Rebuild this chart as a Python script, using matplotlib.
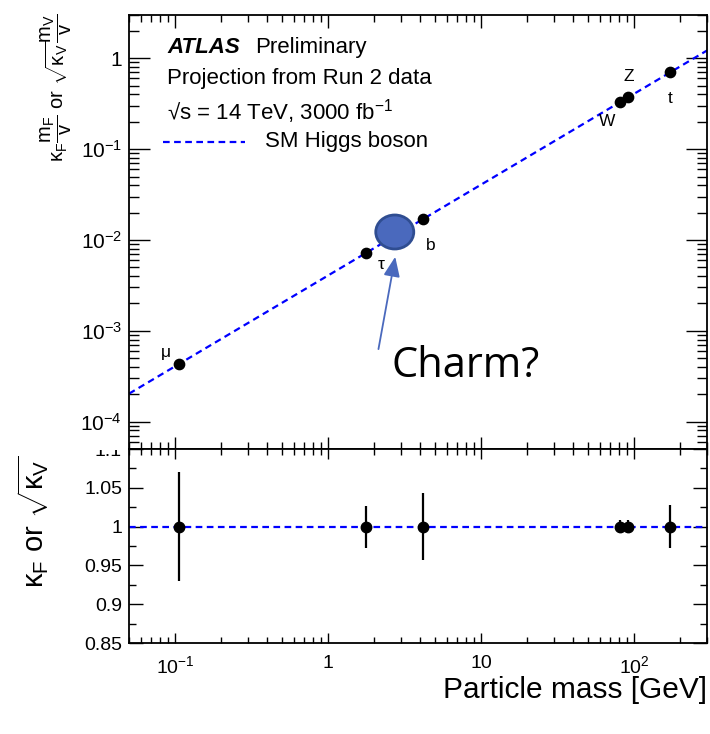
import matplotlib
matplotlib.use("Agg")
import matplotlib.pyplot as plt
import matplotlib.transforms as mtransforms
from matplotlib.patches import Ellipse, Rectangle
from matplotlib.ticker import FixedLocator, FixedFormatter, NullFormatter, LogLocator, MultipleLocator
import numpy as np

plt.rcParams['font.family'] = ['Liberation Sans', 'DejaVu Sans']
plt.rcParams['mathtext.fontset'] = 'custom'
plt.rcParams['mathtext.rm'] = 'Liberation Sans'
plt.rcParams['mathtext.it'] = 'Liberation Sans'
plt.rcParams['mathtext.bf'] = 'Liberation Sans:bold'

# ---- data ----
particles = ["μ", "τ", "b", "W", "Z", "t"]
masses = [0.1057, 1.777, 4.18, 80.4, 91.19, 172.5]   # GeV
vev = 246.0
reduced_coupling = [m / vev for m in masses]
kappa = [1.0, 1.0, 1.0, 1.0, 1.0, 1.0]
kappa_err = [0.070, 0.027, 0.043, 0.008, 0.008, 0.028]
label_offsets_px = [(-13, 12), (15, -12), (8, -26), (-12, -19), (1, 21), (0, -26)]
charm_mass = 2.73
charm_coupling = 0.01225

xlim = (0.05, 300)
ylim_top = (5e-5, 3)
ylim_bot = (0.85, 1.1)
x_major = [0.1, 1, 10, 100]
x_major_labels = [r"$10^{-1}$", "1", "10", r"$10^{2}$"]
y_major = [1e-4, 1e-3, 1e-2, 1e-1, 1]
y_major_labels = [r"$10^{-4}$", r"$10^{-3}$", r"$10^{-2}$", r"$10^{-1}$", "1"]
y_bot_major = [0.85, 0.9, 0.95, 1.0, 1.05, 1.1]
y_bot_labels = ["0.85", "0.9", "0.95", "1", "1.05", "1.1"]

W, H = 710, 734
fig = plt.figure(figsize=(W / 100, H / 100), dpi=100)
L, R = 129, 707
ax = fig.add_axes([L / W, 1 - 449 / H, (R - L) / W, (449 - 15) / H])
axb = fig.add_axes([L / W, 1 - 643 / H, (R - L) / W, (643 - 449) / H])

pt = 0.72  # points per pixel

# SM line
xl = np.array(xlim)
dash = (0, (3, 2.0))
ax.plot(xl, xl / vev, ls=dash, color='#0000ff', lw=1.6, zorder=2)
ax.scatter(masses, reduced_coupling, s=55, color='black', zorder=4)
for name, m, y, off in zip(particles, masses, reduced_coupling, label_offsets_px):
    ax.annotate(name, (m, y), xytext=(off[0] * pt, off[1] * pt), textcoords='offset points',
                ha='center', va='center', fontsize=12.5)

ax.set_xscale('log')
ax.set_yscale('log')
ax.set_xlim(*xlim)
ax.set_ylim(*ylim_top)

# Charm blob
trans = fig.dpi_scale_trans + mtransforms.ScaledTranslation(charm_mass, charm_coupling, ax.transData)
ax.add_patch(Ellipse((0, 0), 0.38, 0.34, transform=trans, facecolor='#4a69bd', edgecolor='#2f4d91', lw=2, zorder=5))
ax.annotate("", xy=(2.77, 7.0e-3), xytext=(2.12, 5.87e-4),
            arrowprops=dict(arrowstyle='-|>,head_length=1.2,head_width=0.5', color='#4a69bd', lw=1.3))
ax.text(2.61, 4.1e-4, "Charm?", fontsize=30, family=['Open Sans'], ha='left', va='center')

# texts
fs = 16
ax.text(0.066, 0.912, "ATLAS", transform=ax.transAxes, fontsize=fs, fontweight='bold', fontstyle='italic')
ax.text(0.218, 0.912, "Preliminary", transform=ax.transAxes, fontsize=fs)
ax.text(0.066, 0.840, "Projection from Run 2 data", transform=ax.transAxes, fontsize=fs)
ax.text(0.066, 0.760, "√s = 14 TeV, 3000 fb$^{-1}$", transform=ax.transAxes, fontsize=fs)
ax.plot([0.059, 0.2], [0.708, 0.708], transform=ax.transAxes, ls=dash, color='#0000ff', lw=1.6)
ax.text(0.235, 0.708, "SM Higgs boson", transform=ax.transAxes, fontsize=fs, va='center')

# bottom panel
axb.plot(xl, [1, 1], ls=dash, color='#0000ff', lw=1.6, zorder=2)
axb.errorbar(masses, kappa, yerr=kappa_err, fmt='o', color='black', ms=7.5, elinewidth=1.6, capsize=0, zorder=4)
axb.set_xscale('log')
axb.set_xlim(*xlim)
axb.set_ylim(*ylim_bot)

for a in (ax, axb):
    a.xaxis.set_major_locator(FixedLocator(x_major))
    a.xaxis.set_minor_locator(LogLocator(base=10, subs=np.arange(2, 10)))
    a.xaxis.set_minor_formatter(NullFormatter())
    a.tick_params(which='both', direction='in', top=True, right=True, width=1.0)
    for s in a.spines.values():
        s.set_linewidth(1.3)

ax.xaxis.set_major_formatter(NullFormatter())
ax.tick_params(axis='x', which='major', length=9)
ax.tick_params(axis='x', which='minor', length=5)
ax.yaxis.set_major_locator(FixedLocator(y_major))
ax.yaxis.set_major_formatter(FixedFormatter(y_major_labels))
ax.yaxis.set_minor_locator(LogLocator(base=10, subs=np.arange(2, 10)))
ax.yaxis.set_minor_formatter(NullFormatter())
ax.tick_params(axis='y', which='major', length=15, labelsize=15, pad=5)
ax.tick_params(axis='y', which='minor', length=7.5)

axb.xaxis.set_major_formatter(FixedFormatter(x_major_labels))
axb.tick_params(axis='x', which='major', length=7, labelsize=14, pad=9)
axb.tick_params(axis='x', which='minor', length=4)
axb.yaxis.set_major_locator(FixedLocator(y_bot_major))
axb.yaxis.set_major_formatter(FixedFormatter(y_bot_labels))
axb.yaxis.set_minor_locator(MultipleLocator(0.025))
axb.tick_params(axis='y', which='major', length=10, labelsize=14, pad=5)
axb.tick_params(axis='y', which='minor', length=5)

# the ratio pad's top label is cut by the upper pad, as in the original
fig.add_artist(Rectangle((60 / W, 1 - 449.5 / H), 66 / W, 12 / H, transform=fig.transFigure,
                         facecolor='white', edgecolor='none', zorder=10))

fig.text(56 / W, 1 - 88 / H,
         r"$\mathrm{κ_{F}}\dfrac{\mathrm{m_{F}}}{\mathrm{v}}$ or $\sqrt{\mathrm{κ_{V}}}\dfrac{\mathrm{m_{V}}}{\mathrm{v}}$",
         rotation=90, ha='center', va='center', fontsize=14.5)
fig.text(33 / W, 1 - 522 / H, r"$\mathrm{κ_{F}}$ or $\sqrt{\mathrm{κ_{V}}}$", rotation=90,
         ha='center', va='center', fontsize=21)
fig.text(707 / W, 1 - 690 / H, "Particle mass [GeV]", ha='right', va='center', fontsize=21.5)

fig.savefig("out.png", dpi=100)
